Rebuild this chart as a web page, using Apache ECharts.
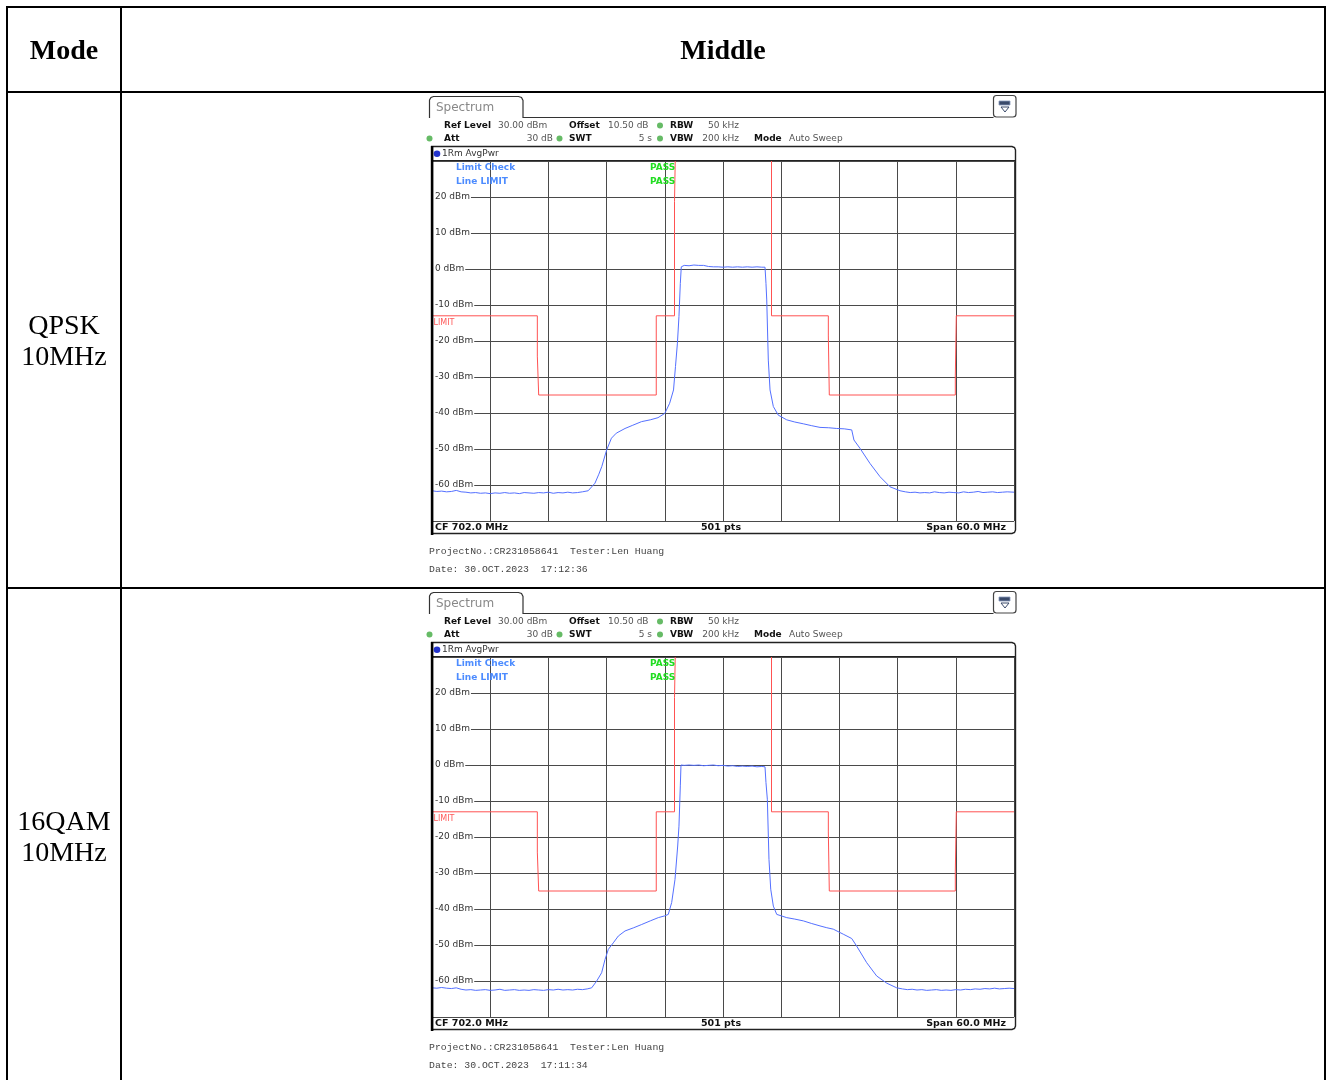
<!DOCTYPE html>
<html>
<head>
<meta charset="utf-8">
<script src="https://cdn.jsdelivr.net/npm/echarts@6/dist/echarts.min.js"></script>
<style>
html,body{margin:0;padding:0;background:#fff;}
#c{width:1327px;height:1080px;}
</style>
</head>
<body>
<div id="c"></div>
<script>
// ---------- data ----------
const HEADER = ['Mode', 'Middle'];
const MODES = [['QPSK', '10MHz'], ['16QAM', '10MHz']];
const DATES = ['Date: 30.OCT.2023  17:12:36', 'Date: 30.OCT.2023  17:11:34'];
const FREQ_MIN = 672, FREQ_MAX = 732, FREQ_STEP = 6;      // MHz (CF 702, span 60)
const LEVEL_MIN = -70, LEVEL_MAX = 30, LEVEL_STEP = 10;   // dBm
const LIMIT_LINE = [
  [672, -13], [682.86, -13], [682.86, -24.2], [683.0, -24.2], [683.0, -35],
  [695.12, -35], [695.12, -13], [697.0, -13], [697.0, 18.7], [697.14, 18.7], [697.14, 40],
  [707.0, 40], [707.0, -13], [712.86, -13], [712.86, -18.6], [712.96, -18.6], [712.96, -35],
  [725.95, -35], [725.95, -29.7], [726.05, -29.7], [726.05, -13], [732, -13]
];
const QPSK_TRACE = [
  [672.0,-61.6],[672.5,-61.8],[673.0,-61.7],[673.5,-61.9],[674.0,-61.8],[674.5,-61.5],[675.0,-61.9],
  [675.5,-62.0],[676.0,-62.2],[676.5,-62.1],[677.0,-62.3],[677.5,-62.2],[678.0,-62.4],[678.5,-62.2],
  [679.0,-62.3],[679.5,-62.1],[680.0,-62.3],[680.5,-62.2],[681.0,-62.4],[681.5,-62.1],[682.0,-62.2],
  [682.5,-62.3],[683.0,-62.1],[683.5,-62.2],[684.0,-62.0],[684.5,-62.3],[685.0,-62.1],[685.5,-62.2],
  [686.0,-62.0],[686.5,-62.2],[687.0,-62.1],[687.5,-61.9],[688.1,-61.6],[688.8,-59.5],[689.2,-57.0],
  [689.5,-54.9],[690.0,-50.3],[690.5,-47.0],[691.0,-45.6],[691.9,-44.3],[692.7,-43.4],[693.6,-42.4],
  [694.5,-41.9],[695.3,-41.3],[696.0,-40.1],[696.5,-37.3],[696.9,-33.6],[697.1,-27.1],[697.3,-20.6],
  [697.46,-13.2],[697.6,-4.0],[697.7,0.6],[698.0,1.0],[698.5,0.9],[699.0,1.1],[699.5,1.0],[700.0,1.0],
  [700.5,0.7],[701.0,0.6],[701.5,0.6],[702.0,0.5],[702.5,0.6],[703.0,0.5],[703.5,0.6],[704.0,0.5],
  [704.5,0.6],[705.0,0.5],[705.5,0.6],[706.0,0.5],[706.33,0.5],[706.43,-4.0],[706.51,-8.6],
  [706.67,-25.3],[706.85,-33.6],[707.19,-38.2],[707.7,-40.6],[708.57,-41.9],[709.4,-42.5],
  [710.28,-43.0],[711.1,-43.5],[712.0,-44.0],[712.9,-44.1],[713.72,-44.3],[714.5,-44.4],
  [715.27,-44.7],[715.5,-47.5],[716.12,-49.8],[717.15,-54.0],[718.19,-57.7],[719.22,-60.5],
  [720.25,-61.6],[720.8,-61.9],[721.3,-62.1],[721.8,-62.0],[722.3,-62.2],[722.8,-62.1],[723.3,-62.2],
  [723.8,-61.9],[724.3,-62.1],[724.8,-62.2],[725.3,-62.0],[725.8,-62.1],[726.3,-62.2],[726.8,-61.9],
  [727.3,-62.1],[727.8,-62.0],[728.3,-61.8],[728.8,-62.1],[729.3,-62.0],[729.8,-61.9],[730.3,-62.1],
  [730.8,-62.0],[731.3,-61.9],[732.0,-62.0]
];
const QAM16_TRACE = [
  [672.0,-61.9],[672.5,-62.0],[673.0,-61.8],[673.5,-62.0],[674.0,-62.1],[674.5,-61.9],[675.0,-62.3],
  [675.5,-62.5],[676.0,-62.4],[676.5,-62.6],[677.0,-62.5],[677.5,-62.4],[678.0,-62.6],[678.5,-62.5],
  [679.0,-62.3],[679.5,-62.6],[680.0,-62.5],[680.5,-62.4],[681.0,-62.6],[681.5,-62.5],[682.0,-62.6],
  [682.5,-62.4],[683.0,-62.5],[683.5,-62.6],[684.0,-62.4],[684.5,-62.5],[685.0,-62.3],[685.5,-62.5],
  [686.0,-62.4],[686.5,-62.5],[687.0,-62.3],[687.5,-62.4],[688.0,-62.2],[688.46,-61.9],[688.98,-60.0],
  [689.49,-57.7],[689.84,-54.0],[690.18,-51.2],[690.69,-49.4],[691.21,-47.5],[691.9,-46.1],
  [692.8,-45.2],[693.62,-44.3],[694.5,-43.3],[695.33,-42.4],[696.0,-41.9],[696.36,-41.5],
  [696.71,-38.2],[697.05,-31.8],[697.33,-22.5],[697.46,-17.0],[697.6,-5.8],[697.67,0.0],
  [698.0,-0.1],[698.5,0.0],[699.0,-0.1],[699.5,0.0],[700.0,-0.2],[700.5,-0.1],[701.0,0.0],
  [701.5,-0.2],[702.0,-0.1],[702.5,-0.3],[703.0,-0.2],[703.5,-0.4],[704.0,-0.3],[704.5,-0.4],
  [705.0,-0.3],[705.5,-0.5],[706.0,-0.4],[706.33,-0.5],[706.43,-4.9],[706.57,-9.5],[706.74,-26.2],
  [706.92,-34.5],[707.19,-39.2],[707.54,-41.5],[708.57,-42.4],[709.4,-42.8],[710.28,-43.3],
  [711.1,-44.0],[712.0,-44.7],[712.7,-45.2],[713.37,-45.6],[714.4,-47.0],[715.27,-48.2],
  [715.78,-50.3],[716.81,-54.9],[717.84,-58.6],[718.88,-60.6],[719.91,-61.9],[720.5,-62.2],
  [721.0,-62.4],[721.5,-62.3],[722.0,-62.5],[722.5,-62.4],[723.0,-62.6],[723.5,-62.5],[724.0,-62.4],
  [724.5,-62.6],[725.0,-62.5],[725.5,-62.6],[726.0,-62.4],[726.5,-62.5],[727.0,-62.3],[727.5,-62.4],
  [728.0,-62.2],[728.5,-62.3],[729.0,-62.1],[729.5,-62.2],[730.0,-62.0],[730.5,-62.2],[731.0,-62.1],
  [731.5,-62.0],[732.0,-62.1]
];
const TRACES = [QPSK_TRACE, QAM16_TRACE];

// ---------- layout ----------
const PANEL_DY = [0, 496];
const SANS = '"DejaVu Sans", sans-serif';
const MONO = '"Liberation Mono", "DejaVu Sans Mono", monospace';
const SERIF = '"Liberation Serif", "Times New Roman", serif';

function T(x, y, text, o) {
  const st = Object.assign({
    text: text, fill: '#333', font: '9px ' + SANS,
    textAlign: 'left', align: 'left', textVerticalAlign: 'middle', verticalAlign: 'middle'
  }, o || {});
  if (st.textAlign) st.align = st.textAlign;
  return { type: 'text', x: x, y: y, z: 20, silent: true, style: st };
}
function L(x1, y1, x2, y2, color, w) {
  return { type: 'line', z: 20, silent: true, shape: { x1, y1, x2, y2 }, style: { stroke: color, lineWidth: w } };
}
function dot(cx, cy, r, color) {
  return { type: 'circle', z: 21, silent: true, shape: { cx, cy, r }, style: { fill: color } };
}
function B(x, y, text, size) {
  return T(x, y, text, { fill: '#111', font: 'bold ' + (size || 9) + 'px ' + SANS });
}

const graphics = [];
// table grid
const TBL = '#000';
graphics.push(L(7, 7, 1325, 7, TBL, 2));
graphics.push(L(7, 92, 1325, 92, TBL, 2));
graphics.push(L(7, 588, 1325, 588, TBL, 2));
graphics.push(L(7, 6, 7, 1080, TBL, 2));
graphics.push(L(121, 6, 121, 1080, TBL, 2));
graphics.push(L(1325, 6, 1325, 1080, TBL, 2));
graphics.push(T(64, 51.5, HEADER[0], { font: 'bold 28px ' + SERIF, fill: '#000', textAlign: 'center' }));
graphics.push(T(723, 51.5, HEADER[1], { font: 'bold 28px ' + SERIF, fill: '#000', textAlign: 'center' }));

PANEL_DY.forEach(function (dy, i) {
  graphics.push(T(64, 326.5 + dy, MODES[i][0], { font: '28px ' + SERIF, fill: '#000', textAlign: 'center' }));
  graphics.push(T(64, 358 + dy, MODES[i][1], { font: '28px ' + SERIF, fill: '#000', textAlign: 'center' }));

  // tab
  graphics.push({ type: 'polyline', z: 20, silent: true,
    shape: { points: [[429.5, 118 + dy], [429.5, 100 + dy], [431, 97.5 + dy], [433.5, 96.5 + dy], [518.5, 96.5 + dy],
      [521.5, 97.5 + dy], [523, 100.5 + dy], [523, 117.5 + dy], [993.5, 117.5 + dy]] },
    style: { stroke: '#333', lineWidth: 1.2, fill: null } });
  graphics.push(T(436, 107.5 + dy, 'Spectrum', { fill: '#888', font: '12px ' + SANS }));
  // icon
  graphics.push({ type: 'rect', z: 20, silent: true, shape: { x: 993.5, y: 95.5 + dy, width: 22.5, height: 21.5, r: 3 },
    style: { stroke: '#444', lineWidth: 1.2, fill: '#fff' } });
  graphics.push({ type: 'rect', z: 21, silent: true, shape: { x: 999, y: 101 + dy, width: 11, height: 4 },
    style: { fill: '#3a4a6a', stroke: '#8899bb', lineWidth: 0.8 } });
  graphics.push({ type: 'polygon', z: 21, silent: true, shape: { points: [[1001, 107 + dy], [1009, 107 + dy], [1005, 112 + dy]] },
    style: { stroke: '#3a4a6a', lineWidth: 1, fill: '#fff' } });

  // parameter rows
  const r1 = 125.5 + dy, r2 = 138.5 + dy;
  graphics.push(B(444, r1, 'Ref Level'));
  graphics.push(T(498, r1, '30.00 dBm', { fill: '#555' }));
  graphics.push(B(569, r1, 'Offset'));
  graphics.push(T(608, r1, '10.50 dB', { fill: '#555' }));
  graphics.push(dot(660, r1, 3, '#66bb66'));
  graphics.push(B(670, r1, 'RBW'));
  graphics.push(T(739, r1, '50 kHz', { fill: '#555', textAlign: 'right' }));
  graphics.push(dot(429.5, r2, 3, '#66bb66'));
  graphics.push(B(444, r2, 'Att'));
  graphics.push(T(553, r2, '30 dB', { fill: '#555', textAlign: 'right' }));
  graphics.push(dot(559.5, r2, 3, '#66bb66'));
  graphics.push(B(569, r2, 'SWT'));
  graphics.push(T(652, r2, '5 s', { fill: '#555', textAlign: 'right' }));
  graphics.push(dot(660, r2, 3, '#66bb66'));
  graphics.push(B(670, r2, 'VBW'));
  graphics.push(T(739, r2, '200 kHz', { fill: '#555', textAlign: 'right' }));
  graphics.push(B(754, r2, 'Mode'));
  graphics.push(T(789, r2, 'Auto Sweep', { fill: '#555' }));

  // trace window frame
  graphics.push({ type: 'polyline', z: 20, silent: true,
    shape: { points: [[431, 146.5 + dy], [1012, 146.5 + dy], [1014.5, 147.5 + dy], [1015.5, 150 + dy],
      [1015.5, 530 + dy], [1014.5, 532.5 + dy], [1012, 533.5 + dy], [431, 533.5 + dy]] },
    style: { stroke: '#222', lineWidth: 1.4, fill: null } });
  graphics.push({ type: 'rect', z: 22, silent: true, shape: { x: 430.8, y: 146 + dy, width: 2.6, height: 389 },
    style: { fill: '#000' } });
  graphics.push(dot(437, 153.7 + dy, 3.3, '#2233cc'));
  graphics.push(T(442, 153.7 + dy, '1Rm AvgPwr', { fill: '#333' }));
  graphics.push(L(433, 160.5 + dy, 1015, 160.5 + dy, '#222', 1));

  graphics.push(T(456, 168 + dy, 'Limit Check', { fill: '#4d8cff', font: 'bold 9px ' + SANS }));
  graphics.push(T(456, 181.3 + dy, 'Line LIMIT', { fill: '#4d8cff', font: 'bold 9px ' + SANS }));
  graphics.push(T(650, 168 + dy, 'PASS', { fill: '#22dd22', font: 'bold 9px ' + SANS }));
  graphics.push(T(650, 181.3 + dy, 'PASS', { fill: '#22dd22', font: 'bold 9px ' + SANS }));
  graphics.push(T(433.5, 323 + dy, 'LIMIT', { fill: '#ff5a5a', font: '8px ' + SANS }));

  // footer
  const fy = 527.5 + dy;
  graphics.push(T(435, fy, 'CF 702.0 MHz', { fill: '#111', font: 'bold 9.5px ' + SANS }));
  graphics.push(T(721, fy, '501 pts', { fill: '#111', font: 'bold 9.5px ' + SANS, textAlign: 'center' }));
  graphics.push(T(1006, fy, 'Span 60.0 MHz', { fill: '#111', font: 'bold 9.5px ' + SANS, textAlign: 'right' }));

  graphics.push(T(429, 551 + dy, 'ProjectNo.:CR231058641  Tester:Len Huang', { fill: '#444', font: '9.8px ' + MONO }));
  graphics.push(T(429, 569.3 + dy, DATES[i], { fill: '#444', font: '9.8px ' + MONO }));
});

// ---------- axes & series ----------
const grids = [], xAxes = [], yAxes = [], series = [];
PANEL_DY.forEach(function (dy, i) {
  grids.push({ left: 432, top: 161 + dy, width: 582, height: 360, containLabel: false });
  xAxes.push({ type: 'value', gridIndex: i, min: FREQ_MIN, max: FREQ_MAX, interval: FREQ_STEP,
    axisLine: { show: false }, axisTick: { show: false }, axisLabel: { show: false },
    splitLine: { show: true, lineStyle: { color: '#4a4a4a', width: 1 } } });
  // grid lines
  yAxes.push({ type: 'value', gridIndex: i, min: LEVEL_MIN, max: LEVEL_MAX, interval: LEVEL_STEP,
    axisLine: { show: false }, axisTick: { show: false }, axisLabel: { show: false },
    splitLine: { show: true, lineStyle: { color: '#4a4a4a', width: 1 } } });
  // labels (drawn above grid lines)
  yAxes.push({ type: 'value', gridIndex: i, min: LEVEL_MIN, max: LEVEL_MAX, interval: LEVEL_STEP, z: 5,
    position: 'left', offset: 0,
    axisLine: { show: false }, axisTick: { show: false }, splitLine: { show: false },
    axisLabel: { inside: true, margin: 1, color: '#333', fontSize: 9, fontFamily: 'DejaVu Sans',
      backgroundColor: '#fff', padding: [0, 1, 0, 2],
      formatter: function (v) { return (v === LEVEL_MAX || v === LEVEL_MIN) ? '' : v + ' dBm'; } } });
  series.push({ type: 'line', xAxisIndex: i, yAxisIndex: i * 2, data: LIMIT_LINE, showSymbol: false,
    symbol: 'none', clip: true, animation: false, z: 3,
    lineStyle: { color: '#ff5252', width: 1 } });
  series.push({ type: 'line', xAxisIndex: i, yAxisIndex: i * 2, data: TRACES[i], showSymbol: false,
    symbol: 'none', clip: true, animation: false, z: 4,
    lineStyle: { color: '#5470ff', width: 1 } });
});

const chart = echarts.init(document.getElementById('c'), null, { renderer: 'canvas' });
chart.setOption({
  animation: false,
  backgroundColor: '#fff',
  grid: grids, xAxis: xAxes, yAxis: yAxes, series: series,
  graphic: { elements: graphics }
});
</script>
</body>
</html>
